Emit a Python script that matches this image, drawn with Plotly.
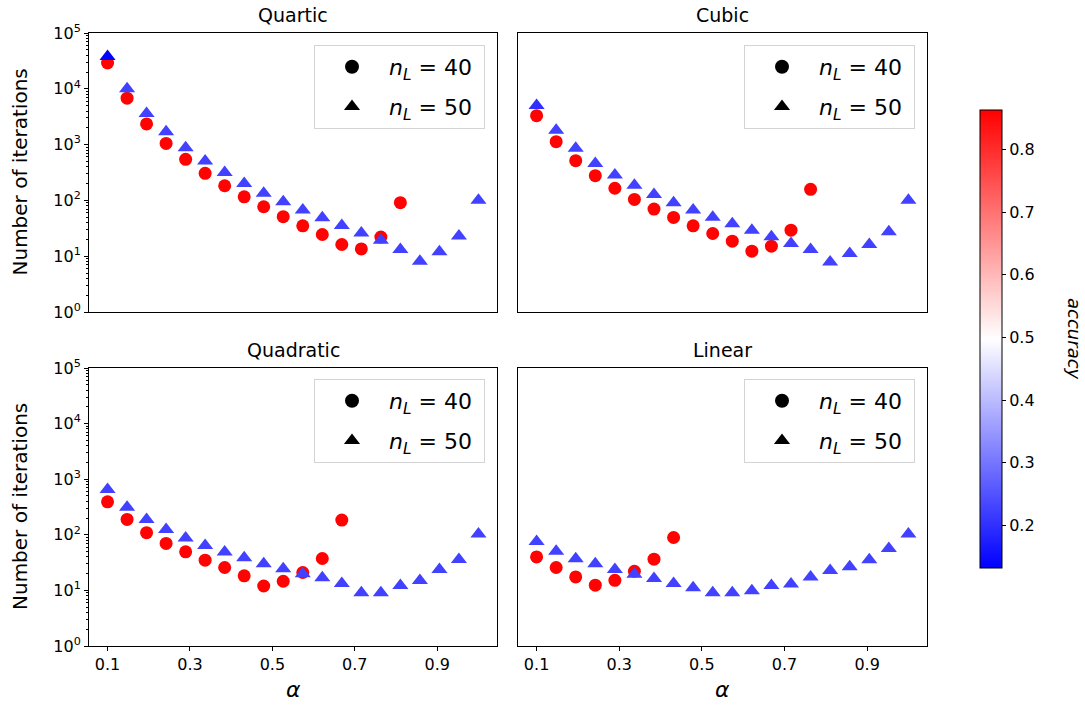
import plotly.graph_objects as go

W, H = 1085, 705

# ---------------- data ----------------
alpha = [0.1, 0.1474, 0.1947, 0.2421, 0.2895, 0.3368, 0.3842, 0.4316, 0.4789, 0.5263,
         0.5737, 0.6211, 0.6684, 0.7158, 0.7632, 0.8105, 0.8579, 0.9053, 0.9526, 1.0]

quartic_n40 = [29000, 6800, 2350, 1050, 545, 306, 183, 116, 77, 51, 35, 24.5, 16.2, 13.5, 22, 91]
quartic_n50 = [38000, 10000, 3600, 1700, 880, 510, 315, 200, 134, 95, 67, 49, 35.6, 26, 19.4,
               13.2, 8.1, 12, 22.9, 101]
cubic_n40 = [3300, 1130, 515, 277, 165, 104, 70, 49.6, 35, 25.5, 18.6, 12.3, 15.1, 29.3, 158]
cubic_n50 = [5000, 1800, 860, 460, 285, 186, 128, 91, 67, 50, 38, 29.3, 22.3, 16.9, 13.2,
             7.9, 11.2, 16.2, 27.4, 101]
quadratic_n40 = [392, 189, 109, 70, 49.4, 35, 25.8, 18.3, 12.0, 14.6, 21, 37.5, 184]
quadratic_n50 = [656, 314, 189, 125, 88, 64, 48.8, 38.5, 30, 24.4, 19.9, 16.8, 13.3, 9.1, 9.1,
                 12.2, 15.1, 23.7, 36, 103]
linear_n40 = [40, 25.8, 17.5, 12.4, 15.2, 22.1, 36.4, 89.5]
linear_n50 = [76, 50.7, 37, 30, 23.7, 19.6, 16.4, 13.3, 11.2, 9.1, 9.1, 9.9, 12.2, 13.1, 17.5,
              22.8, 26.5, 35.5, 56.5, 103]

# accuracy (colour) of every point
quartic_acc40 = [0.86] * 16
quartic_acc50 = [0.135] + [0.225] * 19
cubic_acc40 = [0.86] * 15
cubic_acc50 = [0.20] + [0.225] * 19
quadratic_acc40 = [0.86] * 13
quadratic_acc50 = [0.225] * 20
linear_acc40 = [0.86] * 8
linear_acc50 = [0.225] * 20

titles = ["Quartic", "Cubic", "Quadratic", "Linear"]
ytick_vals = [1, 10, 100, 1000, 10000, 100000]
ytick_text = ["10<sup>0</sup>", "10<sup>1</sup>", "10<sup>2</sup>", "10<sup>3</sup>",
              "10<sup>4</sup>", "10<sup>5</sup>"]
xtick_vals = [0.1, 0.3, 0.5, 0.7, 0.9]
xtick_text = ["0.1", "0.3", "0.5", "0.7", "0.9"]
cbar_ticks = [0.2, 0.3, 0.4, 0.5, 0.6, 0.7, 0.8]
legend_labels = ["<i>n<sub>L</sub></i> = 40&nbsp;", "<i>n<sub>L</sub></i> = 50&nbsp;"]

panels = [
    (quartic_n40, quartic_acc40, quartic_n50, quartic_acc50),
    (cubic_n40, cubic_acc40, cubic_n50, cubic_acc50),
    (quadratic_n40, quadratic_acc40, quadratic_n50, quadratic_acc50),
    (linear_n40, linear_acc40, linear_n50, linear_acc50),
]

# ---------------- layout geometry (pixels) ----------------
xdom_px = [(89, 497), (518, 927), (89, 497), (518, 927)]
ydom_px = [(33, 312), (33, 312), (368, 646), (368, 646)]
legend_px = [(485, 45), (915, 45), (485, 379), (915, 379)]  # right, top

FONT = "DejaVu Sans"
bwr = [[0.0, "rgb(0,0,255)"], [0.5, "rgb(255,255,255)"], [1.0, "rgb(255,0,0)"]]

fig = go.Figure()

for i, (y40, a40, y50, a50) in enumerate(panels):
    k = "" if i == 0 else str(i + 1)
    xa, ya = "x" + k, "y" + k
    lg = "legend" + k
    fig.add_trace(go.Scatter(
        x=alpha[:len(y40)], y=y40, mode="markers", xaxis=xa, yaxis=ya, showlegend=False,
        marker=dict(symbol="circle", size=13, color=a40, coloraxis="coloraxis", line=dict(width=0))))
    fig.add_trace(go.Scatter(
        x=alpha[:len(y50)], y=y50, mode="markers", xaxis=xa, yaxis=ya, showlegend=False,
        marker=dict(symbol="triangle-up", size=14, color=a50, coloraxis="coloraxis", line=dict(width=0))))
    # legend-only entries (black markers)
    for sym, lab, grp in [("circle", legend_labels[0], "a"), ("triangle-up", legend_labels[1], "b")]:
        fig.add_trace(go.Scatter(
            x=[None], y=[None], mode="markers", xaxis=xa, yaxis=ya, name=lab, legend=lg,
            legendgroup=grp + k, showlegend=True,
            marker=dict(symbol=sym, size=14, color="black")))

layout = dict(
    width=W, height=H, margin=dict(l=0, r=0, t=0, b=0),
    paper_bgcolor="white", plot_bgcolor="white",
    font=dict(family=FONT, size=16, color="black"),
    coloraxis=dict(
        colorscale=bwr, cmin=0.132, cmax=0.863,
        colorbar=dict(
            x=980 / W, xanchor="left", y=1 - 339 / H, yanchor="middle",
            len=458 / H, lenmode="fraction", thickness=22, thicknessmode="pixels",
            xpad=0, ypad=0, outlinecolor="black", outlinewidth=1,
            tickmode="array", tickvals=cbar_ticks, ticks="outside", ticklen=4,
            tickcolor="black", tickfont=dict(size=16, family=FONT, color="black"),
            title=dict(text=""),
        ),
    ),
)

minor_vals = [m * 10 ** e for e in range(0, 5) for m in range(2, 10)]

for i in range(4):
    k = "" if i == 0 else str(i + 1)
    x0, x1 = xdom_px[i]
    yt, yb = ydom_px[i]
    bottom = i >= 2
    left = i % 2 == 0
    layout["xaxis" + k] = dict(
        domain=[x0 / W, x1 / W], anchor="y" + k, range=[0.055, 1.045],
        showline=True, mirror=True, linecolor="black", linewidth=1, showgrid=False, zeroline=False,
        tickmode="array", tickvals=xtick_vals, ticktext=xtick_text,
        ticks="outside" if bottom else "", ticklen=4, tickcolor="black",
        showticklabels=bottom, tickfont=dict(size=16, family=FONT, color="black"),
        automargin=False,
    )
    ydict = dict(
        domain=[1 - yb / H, 1 - yt / H], anchor="x" + k, type="log", range=[0, 5],
        showline=True, mirror=True, linecolor="black", linewidth=1, showgrid=False, zeroline=False,
        tickmode="array", tickvals=ytick_vals, ticktext=ytick_text,
        ticks="outside" if left else "", ticklen=4, tickcolor="black",
        showticklabels=left, tickfont=dict(size=16, family=FONT, color="black"),
        automargin=False,
    )
    if left:
        ydict["minor"] = dict(tickmode="array", tickvals=minor_vals, ticks="outside",
                              ticklen=2, tickcolor="black", showgrid=False)
    layout["yaxis" + k] = ydict

    rx, ty = legend_px[i]
    layout["legend" + k] = dict(
        x=rx / W, y=1 - ty / H, xanchor="right", yanchor="top", xref="paper", yref="paper",
        bgcolor="white", bordercolor="#d4d4d4", borderwidth=1,
        font=dict(size=22, family=FONT, color="black"),
        itemwidth=64, tracegroupgap=8, itemsizing="trace",
    )

fig.update_layout(**layout)

ann = []
for i, t in enumerate(titles):
    x0, x1 = xdom_px[i]
    yt, _ = ydom_px[i]
    ann.append(dict(text=t, x=(x0 + x1) / 2 / W, y=1 - (yt - 18) / H, xref="paper", yref="paper",
                    showarrow=False, font=dict(size=19, family=FONT, color="black"),
                    xanchor="center", yanchor="middle"))
for yc in [(33 + 312) / 2, (368 + 646) / 2]:
    ann.append(dict(text="Number of iterations", x=20 / W, y=1 - yc / H, xref="paper", yref="paper",
                    showarrow=False, textangle=-90, font=dict(size=20, family=FONT, color="black"),
                    xanchor="center", yanchor="middle"))
for xc in [(89 + 497) / 2, (518 + 927) / 2]:
    ann.append(dict(text="<i>α</i>", x=xc / W, y=1 - 689 / H, xref="paper", yref="paper",
                    showarrow=False, font=dict(size=22, family=FONT, color="black"),
                    xanchor="center", yanchor="middle"))
ann.append(dict(text="<i>accuracy</i>", x=1074 / W, y=1 - 339 / H, xref="paper", yref="paper",
                showarrow=False, textangle=90, font=dict(size=18, family=FONT, color="black"),
                xanchor="center", yanchor="middle"))
fig.update_layout(annotations=ann)

fig.write_html("out.html")
